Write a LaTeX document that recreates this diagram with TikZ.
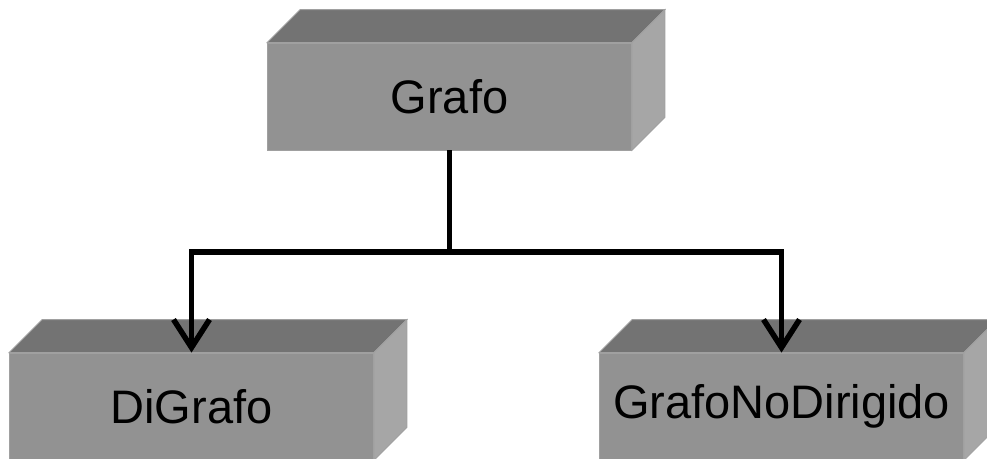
\documentclass[tikz,border=0pt]{standalone}
\usepackage{fontspec}
\setmainfont{Liberation Sans}
\usetikzlibrary{arrows.meta}
\definecolor{frontc}{HTML}{929292}
\definecolor{topc}{HTML}{737373}
\definecolor{sidec}{HTML}{A6A6A6}
\definecolor{edgec}{HTML}{A0A0A0}
\tikzset{
  frontbox/.style={rectangle, fill=frontc, draw=edgec, line width=0.8pt, minimum width=364pt, minimum height=107pt, inner sep=0pt, font=\fontsize{47}{56}\selectfont, text=black},
  topface/.style={fill=topc, draw=edgec, line width=0.8pt},
  sideface/.style={fill=sidec, draw=edgec, line width=0.8pt},
  conn/.style={line width=5.5pt, black, line join=miter},
  arr/.style={conn, -{Straight Barb[length=28pt, width=36pt, line width=5.5pt]}}
}
\begin{document}
\begin{tikzpicture}[x=1pt, y=1pt]
\useasboundingbox (0,0) rectangle (987,-458);
% boxes
\node[frontbox] (grafo) at (449.5,-96.5) {Grafo};
\node[frontbox] (di) at (191.5,-406.5) {DiGrafo};
\node[frontbox] (nodir) at (781.5,-406.5) {GrafoNoDirigido};
\foreach \n in {grafo, di, nodir} {
  \filldraw[topface] (\n.north west) -- ++(33,33) -- ([shift={(33,33)}]\n.north east) -- (\n.north east) -- cycle;
  \filldraw[sideface] (\n.north east) -- ++(33,33) -- ([shift={(33,33)}]\n.south east) -- (\n.south east) -- cycle;
}
% connectors
\coordinate (j) at (449.5,-252);
\draw[conn] (grafo.south) -- (j);
\draw[arr] (j) -| (di.north);
\draw[arr] (j) -| (nodir.north);
\end{tikzpicture}
\end{document}
